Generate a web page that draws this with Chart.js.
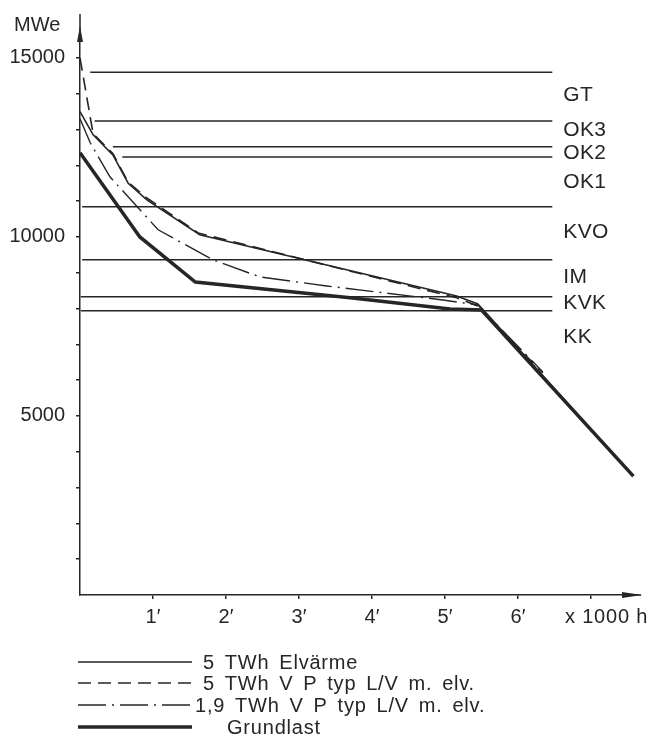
<!DOCTYPE html>
<html>
<head>
<meta charset="utf-8">
<script src="https://cdn.jsdelivr.net/npm/chart.js@4.4.1/dist/chart.umd.min.js"></script>
<style>
  body { margin: 0; background: #fff; }
  #wrap { width: 653px; height: 738px; }
</style>
</head>
<body>
<div id="wrap"><canvas id="myChart" width="653" height="738"></canvas></div>
<script>
// load levels (MWe) and where each level line starts (h)
const levelNames = ['GT', 'OK3', 'OK2', 'OK1', 'KVO', 'IM', 'KVK', 'KK'];
const levelMW = [14600, 13240, 12520, 12230, 10840, 9360, 8330, 7940];
const levelStartH = [140, 200, 450, 580, 30, 30, 10, 10];
const levelEndH = 6470;
const levelLabelMW = [13970, 12990, 12350, 11540, 10140, 8880, 8160, 7210];

// duration curves
const elvarmeH = [0, 180, 450, 660, 920, 1640, 5160, 5450, 7580];
const elvarmeMW = [13500, 12850, 12290, 11500, 11030, 10060, 8350, 8130, 3320];

const vpH = [0, 180, 450, 660, 920, 1620, 5160, 5450, 6340];
const vpMW = [15000, 12880, 12330, 11530, 11080, 10110, 8300, 8070, 6200];

const vp19H = [0, 140, 410, 1070, 1820, 2470, 3380, 4970, 5450, 6340];
const vp19MW = [13300, 12630, 11680, 10200, 9360, 8880, 8630, 8240, 8100, 6230];

const grundH = [0, 820, 1580, 3700, 5070, 5500, 7580];
const grundMW = [12350, 10000, 8740, 8300, 7990, 7960, 3320];

const xTickValues = [1000, 2000, 3000, 4000, 5000, 6000, 7000];
const xTickLabels = ['1\u2032', '2\u2032', '3\u2032', '4\u2032', '5\u2032', '6\u2032', ''];
const yTickValues = [1000, 2000, 3000, 4000, 5000, 6000, 7000, 8000, 9000, 10000, 11000, 12000, 13000, 14000, 15000];
const yTickLabels = [5000, 10000, 15000];

const legendTexts = ['5 TWh Elvärme', '5 TWh V P typ L/V m. elv.', '1,9 TWh V P typ L/V m. elv.', 'Grundlast'];

const ink = '#262626';
const font = { family: '"Liberation Sans", Arial, sans-serif', size: 20 };

const pts = (xs, ys) => xs.map((x, i) => ({ x: x, y: ys[i] }));

const curveSets = [
    { label: legendTexts[0], data: pts(elvarmeH, elvarmeMW), borderWidth: 1.6, borderDash: [] },
    { label: legendTexts[1], data: pts(vpH, vpMW), borderWidth: 1.6, borderDash: [13, 7] },
    { label: legendTexts[2], data: pts(vp19H, vp19MW), borderWidth: 1.4, borderDash: [28, 6, 2, 6] },
    { label: legendTexts[3], data: pts(grundH, grundMW), borderWidth: 3.5, borderDash: [] }
];

const levelSets = levelNames.map((n, i) => ({
    label: n,
    data: [{ x: levelStartH[i], y: levelMW[i] }, { x: levelEndH, y: levelMW[i] }],
    borderWidth: 1.5,
    borderDash: []
}));

const datasets = curveSets.concat(levelSets).map(d => Object.assign({
    borderColor: ink,
    pointRadius: 0,
    fill: false,
    tension: 0,
    borderCapStyle: 'butt'
}, d));

const decor = {
    id: 'decor',
    afterDraw(chart) {
        const ctx = chart.ctx;
        const a = chart.chartArea;
        const xs = chart.scales.x, ys = chart.scales.y;
        ctx.save();
        ctx.strokeStyle = ink;
        ctx.fillStyle = ink;
        ctx.lineWidth = 1.5;

        // axis arrows
        ctx.beginPath();
        ctx.moveTo(a.left, a.top);
        ctx.lineTo(a.left, 14);
        ctx.moveTo(a.right, a.bottom);
        ctx.lineTo(641, a.bottom);
        ctx.stroke();
        ctx.beginPath();
        ctx.moveTo(a.left, 26);
        ctx.lineTo(a.left - 3, 42);
        ctx.lineTo(a.left + 3, 42);
        ctx.closePath();
        ctx.fill();
        ctx.beginPath();
        ctx.moveTo(642, a.bottom);
        ctx.lineTo(622, a.bottom - 3);
        ctx.lineTo(622, a.bottom + 3);
        ctx.closePath();
        ctx.fill();

        ctx.font = '20px ' + font.family;
        ctx.textAlign = 'left';
        ctx.textBaseline = 'alphabetic';
        ctx.fillText('MWe', 14, 31);
        ctx.letterSpacing = '0.8px';
        ctx.fillText('x 1000 h', 565, 623);

        // level labels
        ctx.font = '21px ' + font.family;
        ctx.letterSpacing = '0.3px';
        ctx.textBaseline = 'middle';
        levelNames.forEach((n, i) => {
            ctx.fillText(n, xs.getPixelForValue(levelEndH) + 11, ys.getPixelForValue(levelLabelMW[i]));
        });

        // legend
        const rowY = [662, 683, 705, 727];
        const textX = [203, 203, 195, 227];
        ctx.font = '20px ' + font.family;
        ctx.letterSpacing = '0.8px';
        ctx.wordSpacing = '3.5px';
        curveSets.forEach((d, i) => {
            ctx.beginPath();
            ctx.setLineDash(d.borderDash);
            ctx.lineWidth = d.borderWidth;
            ctx.moveTo(78, rowY[i]);
            ctx.lineTo(192, rowY[i]);
            ctx.stroke();
            ctx.setLineDash([]);
            ctx.fillText(d.label, textX[i], rowY[i] + 1);
        });
        ctx.restore();
    }
};

const ctx = document.getElementById('myChart').getContext('2d');
const myChart = new Chart(ctx, {
    type: 'line',
    data: { datasets: datasets },
    options: {
        responsive: false,
        animation: false,
        layout: { padding: { top: 40, right: 16, left: 0, bottom: 0 } },
        plugins: { legend: { display: false }, tooltip: { enabled: false } },
        scales: {
            x: {
                type: 'linear',
                min: 0,
                max: 7630,
                afterBuildTicks: s => { s.ticks = xTickValues.map(v => ({ value: v })); },
                afterFit: s => { s.height = 143; },
                ticks: {
                    autoSkip: false,
                    maxRotation: 0,
                    padding: 6,
                    color: ink,
                    font: font,
                    callback: (v, i) => xTickLabels[i]
                },
                grid: { drawOnChartArea: false, drawTicks: true, tickLength: 4, color: ink, lineWidth: 1.5 },
                border: { color: ink, width: 1.5 }
            },
            y: {
                type: 'linear',
                min: 0,
                max: 15500,
                afterBuildTicks: s => { s.ticks = yTickValues.map(v => ({ value: v })); },
                afterFit: s => { s.width = 80; },
                ticks: {
                    autoSkip: false,
                    padding: 11,
                    color: ink,
                    font: font,
                    callback: v => yTickLabels.includes(v) ? String(v) : ''
                },
                grid: { drawOnChartArea: false, drawTicks: true, tickLength: 4, color: ink, lineWidth: 1.5 },
                border: { color: ink, width: 1.5 }
            }
        }
    },
    plugins: [decor]
});
</script>
</body>
</html>
